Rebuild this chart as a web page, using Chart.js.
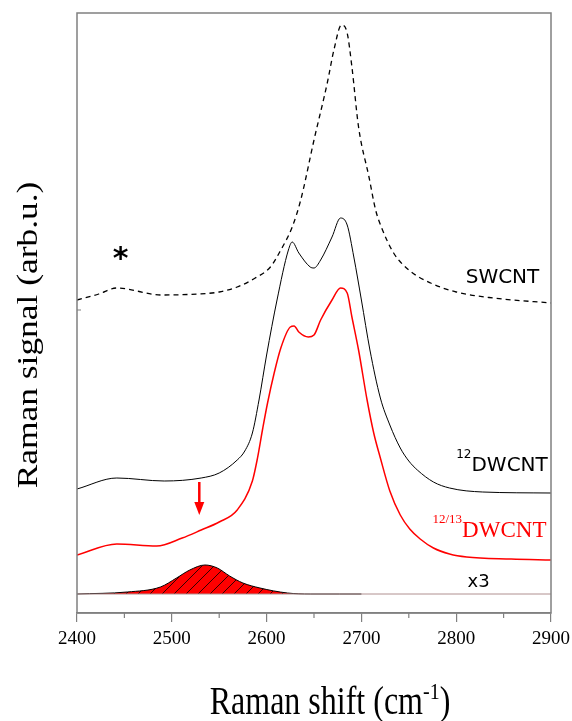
<!DOCTYPE html>
<html>
<head>
<meta charset="utf-8">
<script src="https://cdn.jsdelivr.net/npm/chart.js@4.4.1/dist/chart.umd.min.js"></script>
<style>
  html, body { margin: 0; padding: 0; background: #fff; }
  canvas { display: block; }
</style>
</head>
<body>
<canvas id="raman" width="572" height="721"></canvas>
<script>
// valores (deslocamento Raman em cm-1, sinal em unidades arbitrarias)
const xTicks = [2400, 2500, 2600, 2700, 2800, 2900];
const xMinorTicks = [2450, 2550, 2650, 2750, 2850];

const swcntX = [2400, 2423, 2442, 2489, 2527, 2550, 2569, 2588, 2604, 2615, 2627, 2636, 2650, 2664, 2671, 2679, 2685, 2690, 2697, 2708, 2715, 2721, 2734, 2750, 2773, 2800, 2839, 2900];
const swcntY = [313, 319, 325, 318, 319, 321, 326, 335, 346, 363, 386, 413, 473, 530, 563, 588, 580, 546, 486, 436, 403, 386, 360, 343, 330, 321, 315, 310];

const dw12X = [2400, 2442, 2492, 2531, 2550, 2569, 2577, 2585, 2592, 2600, 2611, 2623, 2627, 2634, 2646, 2650, 2657, 2669, 2678, 2685, 2692, 2700, 2709, 2720, 2730, 2741, 2750, 2759, 2776, 2793, 2828, 2900];
const dw12Y = [124, 135, 132, 135, 140, 153, 162, 180, 213, 258, 313, 363, 371, 360, 346, 345, 353, 376, 395, 388, 356, 313, 263, 215, 188, 165, 152, 143, 131, 125, 121, 120];

const dw1213X = [2400, 2442, 2484, 2511, 2531, 2550, 2569, 2585, 2590, 2596, 2601, 2608, 2615, 2625, 2629, 2634, 2644, 2650, 2657, 2669, 2678, 2685, 2690, 2697, 2706, 2713, 2720, 2730, 2741, 2751, 2762, 2776, 2793, 2811, 2858, 2900];
const dw1213Y = [58, 69, 67, 75, 83, 91, 103, 132, 153, 185, 210, 240, 265, 286, 287, 281, 276, 278, 293, 313, 325, 320, 296, 263, 213, 180, 155, 122, 98, 84, 74, 65, 59, 56, 54, 53];

// componente ajustada (x3)
const fitBase = 19;
const fitX = [2400, 2453, 2488, 2505, 2519, 2535, 2548, 2561, 2575, 2593, 2622, 2646, 2677, 2700];
const fitY = [19, 21, 26, 35, 43, 48, 45, 37, 30, 25, 20, 19, 19, 19];

const pts = (xs, ys) => xs.map((x, i) => ({ x: x, y: ys[i] }));

// hachura vermelha com linhas pretas
function hatch() {
  const c = document.createElement('canvas');
  c.width = 12; c.height = 12;
  const g = c.getContext('2d');
  g.fillStyle = '#ff0000';
  g.fillRect(0, 0, 12, 12);
  g.strokeStyle = '#000';
  g.lineWidth = 0.8;
  g.beginPath();
  g.moveTo(0, 12); g.lineTo(12, 0);
  g.moveTo(-2, 2); g.lineTo(2, -2);
  g.moveTo(10, 14); g.lineTo(14, 10);
  g.stroke();
  return g.createPattern(c, 'repeat');
}

function txt(ctx, s, x, y, font, color, sy) {
  ctx.save();
  ctx.font = font;
  ctx.fillStyle = color;
  ctx.textBaseline = 'alphabetic';
  ctx.textAlign = 'left';
  ctx.translate(x, y);
  ctx.scale(1, sy || 1);
  ctx.fillText(s, 0, 0);
  ctx.restore();
}

function supLabel(ctx, x, y, sup, supFont, main, mainFont, color, raise) {
  ctx.save();
  ctx.font = supFont;
  const w = ctx.measureText(sup).width;
  ctx.restore();
  txt(ctx, sup, x, y - raise, supFont, color);
  txt(ctx, main, x + w, y, mainFont, color);
}

const decor = {
  id: 'decor',
  afterDraw(chart) {
    const ctx = chart.ctx;
    const a = chart.chartArea;
    const sx = chart.scales.x, sy = chart.scales.y;
    const X = v => sx.getPixelForValue(v);
    const Y = v => sy.getPixelForValue(v);

    // moldura
    ctx.save();
    ctx.strokeStyle = '#808080';
    ctx.lineWidth = 1.5;
    ctx.strokeRect(a.left, a.top, a.right - a.left, a.bottom - a.top);
    // ticks menores
    ctx.lineWidth = 1.2;
    ctx.beginPath();
    xMinorTicks.forEach(v => {
      ctx.moveTo(X(v), a.bottom);
      ctx.lineTo(X(v), a.bottom + 5);
    });
    // pequeno tick do eixo y
    ctx.moveTo(a.left, Y(303));
    ctx.lineTo(a.left + 4, Y(303));
    ctx.stroke();
    ctx.restore();

    // rotulos das curvas
    txt(ctx, 'SWCNT', X(2810), Y(330), '20px "DejaVu Sans"', '#000');
    supLabel(ctx, X(2800), Y(142), '12', '12px "DejaVu Sans"', 'DWCNT', '20px "DejaVu Sans"', '#000', 13);
    supLabel(ctx, X(2775), Y(76), '12/13', '13px "Liberation Serif"', 'DWCNT', '23px "Liberation Serif"', '#ff0000', 14);
    txt(ctx, 'x3', X(2812), Y(26), '18px "DejaVu Sans"', '#000');

    // asterisco
    ctx.save();
    ctx.font = 'bold 30px "DejaVu Sans"';
    ctx.fillStyle = '#000';
    ctx.textAlign = 'center';
    ctx.textBaseline = 'alphabetic';
    const m = ctx.measureText('*');
    const off = (m.actualBoundingBoxAscent - m.actualBoundingBoxDescent) / 2;
    ctx.fillText('*', X(2446), Y(360) + off);
    ctx.restore();

    // seta vermelha
    const ax = X(2529), y0 = Y(131), y1 = Y(111), y2 = Y(98);
    ctx.save();
    ctx.strokeStyle = '#ff0000';
    ctx.fillStyle = '#ff0000';
    ctx.lineWidth = 2.5;
    ctx.beginPath();
    ctx.moveTo(ax, y0); ctx.lineTo(ax, y1 + 1);
    ctx.stroke();
    ctx.beginPath();
    ctx.moveTo(ax - 5, y1); ctx.lineTo(ax + 5, y1); ctx.lineTo(ax, y2);
    ctx.closePath();
    ctx.fill();
    ctx.restore();

    // titulo do eixo x
    const serif = '"Liberation Serif"';
    ctx.save();
    ctx.font = '32px ' + serif;
    const w1 = ctx.measureText('Raman shift (cm').width;
    const w3 = ctx.measureText(')').width;
    ctx.font = '20px ' + serif;
    const w2 = ctx.measureText('-1').width;
    ctx.restore();
    const tx = 330 - (w1 + w2 + w3) / 2, ty = 714;
    txt(ctx, 'Raman shift (cm', tx, ty, '32px ' + serif, '#000', 1.27);
    txt(ctx, '-1', tx + w1, ty - 15, '20px ' + serif, '#000', 1.2);
    txt(ctx, ')', tx + w1 + w2, ty, '32px ' + serif, '#000', 1.27);

    // titulo do eixo y
    ctx.save();
    ctx.font = '30px ' + serif;
    ctx.fillStyle = '#000';
    ctx.translate(37, 335);
    ctx.rotate(-Math.PI / 2);
    ctx.scale(1.18, 1);
    ctx.textAlign = 'center';
    ctx.textBaseline = 'alphabetic';
    ctx.fillText('Raman signal (arb.u.)', 0, 0);
    ctx.restore();
  }
};

new Chart(document.getElementById('raman'), {
  type: 'line',
  data: {
    datasets: [
      {
        label: 'SWCNT',
        data: pts(swcntX, swcntY),
        borderColor: '#000',
        borderWidth: 1.3,
        borderDash: [5, 4],
        pointRadius: 0,
        cubicInterpolationMode: 'monotone'
      },
      {
        label: '12DWCNT',
        data: pts(dw12X, dw12Y),
        borderColor: '#000',
        borderWidth: 1,
        pointRadius: 0,
        cubicInterpolationMode: 'monotone'
      },
      {
        label: '12/13DWCNT',
        data: pts(dw1213X, dw1213Y),
        borderColor: '#ff0000',
        borderWidth: 1.5,
        pointRadius: 0,
        cubicInterpolationMode: 'monotone'
      },
      {
        label: 'base',
        data: pts([2400, 2900], [fitBase, fitBase]),
        borderColor: '#b09090',
        borderWidth: 1,
        pointRadius: 0
      },
      {
        label: 'x3',
        data: pts(fitX, fitY),
        borderColor: '#000',
        borderWidth: 1,
        backgroundColor: hatch(),
        fill: { value: fitBase },
        pointRadius: 0,
        cubicInterpolationMode: 'monotone'
      }
    ]
  },
  options: {
    responsive: false,
    animation: false,
    devicePixelRatio: 1,
    layout: { padding: { left: 77, right: 21, top: 13, bottom: 0 } },
    plugins: { legend: { display: false }, tooltip: { enabled: false } },
    scales: {
      x: {
        type: 'linear',
        min: 2400,
        max: 2900,
        afterBuildTicks: axis => { axis.ticks = xTicks.map(v => ({ value: v })); },
        afterFit: axis => {
          axis.height = 108;
          axis.paddingLeft = 0;
          axis.paddingRight = 0;
        },
        ticks: {
          color: '#000',
          font: { family: 'Liberation Serif', size: 19 },
          padding: 6,
          maxRotation: 0,
          callback: v => String(v)
        },
        grid: { drawOnChartArea: false, tickLength: 9, color: '#808080', lineWidth: 1.2 },
        border: { display: true, color: '#808080', width: 1.5 }
      },
      y: {
        display: false,
        min: 0,
        max: 600
      }
    }
  },
  plugins: [decor]
});
</script>
</body>
</html>
